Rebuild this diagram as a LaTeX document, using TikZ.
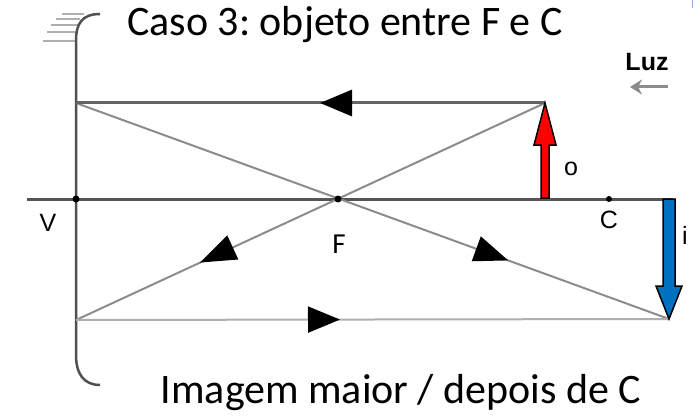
\documentclass[tikz,border=0pt]{standalone}
\usepackage{fontspec}
\setmainfont{Carlito}
\newfontfamily\arialfont{Liberation Sans}
\usetikzlibrary{arrows.meta,decorations.markings}
\definecolor{mirrorgray}{RGB}{80,80,80}
\definecolor{axisgray}{RGB}{85,85,85}
\definecolor{raydark}{RGB}{100,100,100}
\definecolor{raylight}{RGB}{140,140,140}
\definecolor{raypale}{RGB}{175,175,175}
\definecolor{hatchgray}{RGB}{175,175,175}
\definecolor{objred}{RGB}{255,0,0}
\definecolor{imgblue}{RGB}{0,112,192}
\definecolor{tinyblue}{RGB}{140,175,225}
\tikzset{
  pointdot/.style={circle,fill=black,inner sep=0pt,minimum size=7pt},
  small label/.style={font=\arialfont\fontsize{25}{25}\selectfont},
  big text/.style={font=\fontsize{42}{42}\selectfont},
  raymark/.style 2 args={postaction={decorate},decoration={markings,
      mark=at position #1 with {\arrow{Triangle[length=#2,width=26pt,color=black]}}}}
}
\begin{document}
\frenchspacing
\begin{tikzpicture}[x=1pt,y=-1pt]
\useasboundingbox (0,0) rectangle (698,417);
\fill[white] (0,0) rectangle (698,417);

% key points
\coordinate (V) at (76,199);
\coordinate (F) at (338,199);
\coordinate (C) at (609,199);
\coordinate (Aend) at (27,199);
\coordinate (Bend) at (673,199);
\coordinate (O) at (545,103);
\coordinate (I) at (669,319);
\coordinate (MA) at (76,103);
\coordinate (MB) at (76,320);

% hatch lines
\foreach \yy/\xa/\xb in {14/62/84, 19/56/80, 25/51/78, 32/47/77, 41/43/76}
  \draw[hatchgray,line width=1.6pt] (\xa,\yy) -- (\xb,\yy);

% mirror
\draw[mirrorgray,line width=2.5pt]
  (100,14) .. controls (82,14) and (76,24) .. (76,40)
  -- (76,355) .. controls (76,374) and (84,385) .. (100,385);

% axis
\draw[axisgray,line width=3pt] (Aend) -- (Bend);

% rays
\draw[raylight,line width=2pt,raymark={380pt}{36pt}] (O) -- (MB);
\draw[raylight,line width=2pt,raymark={460pt}{34pt}] (MA) -- (I);
\draw[raydark,line width=3pt,raymark={225pt}{32pt}] (O) -- (MA);
\draw[raypale,line width=2pt,raymark={264pt}{32pt}] (MB) -- (I);

% dots
\node[pointdot] (Vdot) at (V) {};
\node[pointdot] (Fdot) at (F) {};
\node[pointdot,minimum size=6pt] (Cdot) at (C) {};

% object arrow (red)
\filldraw[fill=objred,draw=black,line width=1.5pt,line join=miter]
  (541,198) -- (541,145) -- (534,145) -- (O) -- (556,145) -- (549,145) -- (549,198) -- cycle;
% image arrow (blue)
\filldraw[fill=imgblue,draw=black,line width=1.5pt,line join=miter]
  (663,199) -- (663,286) -- (656,286) -- (I) -- (682,286) -- (675,286) -- (675,199) -- cycle;

% labels
\node[small label] (Vlab) at (48,223) {V};
\node[font=\fontsize{29}{29}\selectfont] (Flab) at (339,244) {F};
\node[small label] (Clab) at (609,220) {C};
\node[small label] (olab) at (571,169) {o};
\node[small label] (ilab) at (685,235) {i};
\node[font=\arialfont\bfseries\fontsize{25}{25}\selectfont] (luz) at (647,62) {Luz};
\coordinate (luzA) at (668,87);
\coordinate (luzB) at (630,87);
\draw[raylight,line width=3pt,-{Stealth[length=12pt,width=15pt]}] (luzA) -- (luzB);

\node[big text,anchor=base] (title) at (345,36) {Caso 3: objeto entre F e C};
\node[big text,anchor=base] (bottom) at (401,403) {Imagem maior / depois de C};

% tiny blue mark top right
\draw[tinyblue,line width=1pt] (692,0) -- (692,8);
\end{tikzpicture}
\end{document}
